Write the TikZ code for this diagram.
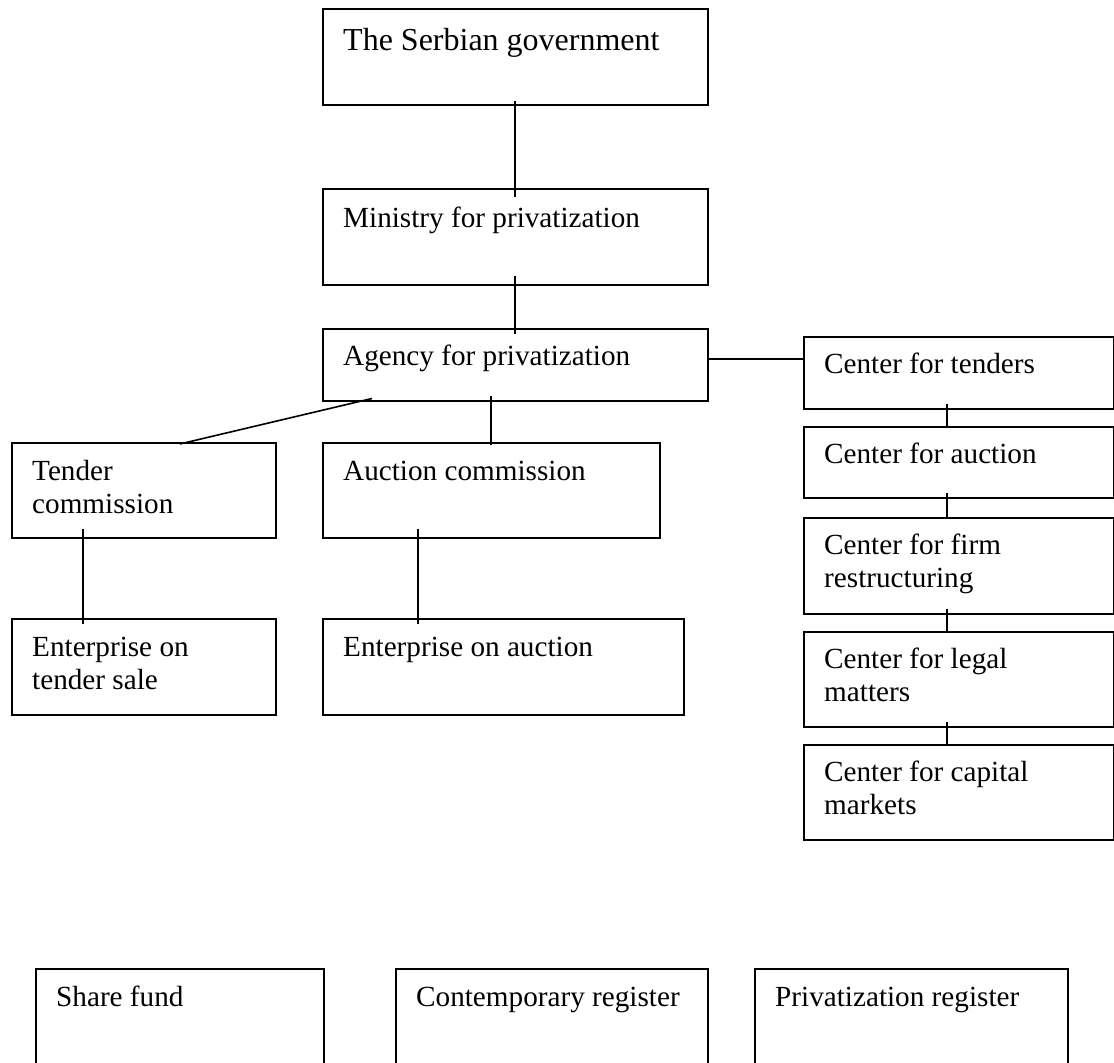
\documentclass[tikz,border=0pt]{standalone}
\usepackage{fontspec}
\setmainfont{Liberation Serif}
\begin{document}
\begin{tikzpicture}[x=1pt,y=-1pt,
  box/.style={draw=black, line width=1.5pt, anchor=north west, inner sep=0pt},
  txt/.style={anchor=base west, text width=400pt, align=flush left, inner sep=0pt, font=\fontsize{29.2}{33.5}\selectfont},
  link/.style={draw=black, line width=1.6pt}]
\clip (0,0) rectangle (1114,1063);
% main chain
\node [box, minimum width=385pt, minimum height=96pt] (gov) at (322,8) {};
\node [box, minimum width=385pt, minimum height=96pt] (min) at (322,188) {};
\node [box, minimum width=385pt, minimum height=72pt] (agency) at (322,328) {};
\node [box, minimum width=264pt, minimum height=95pt] (tcom) at (11,442) {};
\node [box, minimum width=337pt, minimum height=95pt] (acom) at (322,442) {};
\node [box, minimum width=264pt, minimum height=96pt] (tent) at (11,618) {};
\node [box, minimum width=361pt, minimum height=96pt] (aent) at (322,618) {};
% centers
\node [box, minimum width=310pt, minimum height=72pt] (ctender) at (803,336) {};
\node [box, minimum width=310pt, minimum height=71pt] (cauction) at (803,426) {};
\node [box, minimum width=310pt, minimum height=96pt] (cfirm) at (803,517) {};
\node [box, minimum width=310pt, minimum height=95pt] (clegal) at (803,631) {};
\node [box, minimum width=310pt, minimum height=95pt] (ccapital) at (803,744) {};
% registers
\node [box, minimum width=288pt, minimum height=120pt] (share) at (35,968) {};
\node [box, minimum width=312pt, minimum height=120pt] (contemp) at (395,968) {};
\node [box, minimum width=313pt, minimum height=120pt] (privreg) at (754,968) {};
% texts
\node [txt, font=\fontsize{32}{36}\selectfont] (gov-t) at ([xshift=21pt,yshift=-42pt]gov.north west) {The Serbian government};
\node [txt] (min-t) at ([xshift=21pt,yshift=-39pt]min.north west) {Ministry for privatization};
\node [txt] (agency-t) at ([xshift=21pt,yshift=-37pt]agency.north west) {Agency for privatization};
\node [txt] (tcom-t) at ([xshift=21pt,yshift=-38pt]tcom.north west) {Tender\\commission};
\node [txt] (acom-t) at ([xshift=21pt,yshift=-38pt]acom.north west) {Auction commission};
\node [txt] (tent-t) at ([xshift=21pt,yshift=-38pt]tent.north west) {Enterprise on\\tender sale};
\node [txt] (aent-t) at ([xshift=21pt,yshift=-38pt]aent.north west) {Enterprise on auction};
\node [txt] (ctender-t) at ([xshift=21pt,yshift=-37pt]ctender.north west) {Center for tenders};
\node [txt] (cauction-t) at ([xshift=21pt,yshift=-37pt]cauction.north west) {Center for auction};
\node [txt] (cfirm-t) at ([xshift=21pt,yshift=-37pt]cfirm.north west) {Center for firm\\restructuring};
\node [txt] (clegal-t) at ([xshift=21pt,yshift=-37pt]clegal.north west) {Center for legal\\matters};
\node [txt] (ccapital-t) at ([xshift=21pt,yshift=-37pt]ccapital.north west) {Center for capital\\markets};
\node [txt] (share-t) at ([xshift=21pt,yshift=-38pt]share.north west) {Share fund};
\node [txt] (contemp-t) at ([xshift=21pt,yshift=-38pt]contemp.north west) {Contemporary register};
\node [txt] (privreg-t) at ([xshift=21pt,yshift=-38pt]privreg.north west) {Privatization register};
% links
\draw [link] ([yshift=5pt]gov.south) -- ([yshift=-9pt]min.north);
\draw [link] ([yshift=10pt]min.south) -- ([yshift=-6pt]agency.north);
\draw [link] ([yshift=6pt]agency.east) -- ([yshift=14pt]ctender.west);
\draw [link] ([xshift=50pt,yshift=3pt]agency.south west) -- ([xshift=36pt,yshift=-2pt]tcom.north);
\draw [link] ([yshift=46pt]acom.north) -- ([yshift=-3pt]acom.north);
\draw [link] ([xshift=72pt,yshift=10pt]tcom.south west) -- ([xshift=72pt,yshift=-6pt]tent.north west);
\draw [link] ([xshift=96pt,yshift=10pt]acom.south west) -- ([xshift=96pt,yshift=-6pt]aent.north west);
\foreach \a/\b in {ctender/cauction, cauction/cfirm, cfirm/clegal, clegal/ccapital}
  \draw [link] ([xshift=144pt,yshift=6pt]\a.south west) -- ([xshift=144pt]\b.north west);
\end{tikzpicture}
\end{document}
